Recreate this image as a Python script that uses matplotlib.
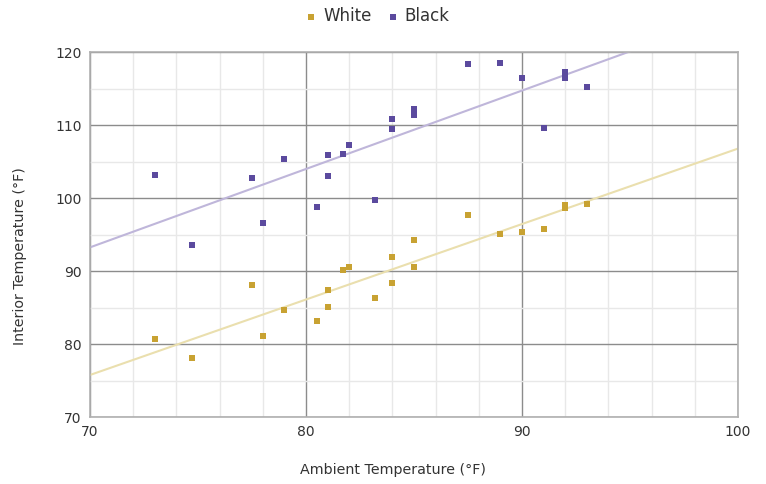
import matplotlib
matplotlib.use("Agg")
import matplotlib.pyplot as plt
from matplotlib.ticker import MultipleLocator
import numpy as np

white_x = [73.0, 74.7, 77.5, 78.0, 79.0, 80.5, 81.0, 81.0, 81.7, 82.0, 83.2,
           84.0, 84.0, 85.0, 85.0, 87.5, 89.0, 90.0, 91.0, 92.0, 92.0, 93.0]
white_y = [80.7, 78.1, 88.1, 81.1, 84.7, 83.2, 85.1, 87.4, 90.1, 90.5, 86.3,
           91.9, 88.4, 94.2, 90.5, 97.7, 95.1, 95.3, 95.8, 99.0, 98.6, 99.2]
black_x = [73.0, 74.7, 77.5, 78.0, 79.0, 80.5, 81.0, 81.0, 81.7, 82.0, 83.2,
           84.0, 84.0, 85.0, 85.0, 87.5, 89.0, 90.0, 91.0, 92.0, 92.0, 93.0]
black_y = [103.2, 93.6, 102.7, 96.6, 105.3, 98.8, 105.9, 103.0, 106.0, 107.3, 99.7,
           110.8, 109.5, 112.2, 111.4, 118.4, 118.5, 116.4, 109.6, 117.3, 116.4, 115.2]

series_names = ["White", "Black"]
marker_colors = ["#c8a232", "#5b4a9e"]
line_colors = ["#eadfae", "#bfb6da"]

fig = plt.figure(figsize=(7.66, 4.84), dpi=100)
ax = fig.add_axes([90/766, 1-417/484, (738-90)/766, (417-52)/484])

ax.set_xlim(70, 100)
ax.set_ylim(70, 120)
ax.xaxis.set_major_locator(MultipleLocator(10))
ax.xaxis.set_minor_locator(MultipleLocator(2))
ax.yaxis.set_major_locator(MultipleLocator(10))
ax.yaxis.set_minor_locator(MultipleLocator(5))
ax.grid(which="minor", color="#e8e8e8", linewidth=1.0, zorder=0)
ax.grid(which="major", color="#8c8c8c", linewidth=1.0, zorder=0)
ax.set_axisbelow(True)
for s in ax.spines.values():
    s.set_color("#b0b0b0")
    s.set_linewidth(1.2)
ax.tick_params(which="both", length=0, labelsize=10, labelcolor="#333333", pad=6)

xs = np.array([70, 100])
handles = []
for name, x, y, mc, lc in zip(series_names, [white_x, black_x], [white_y, black_y],
                              marker_colors, line_colors):
    k, b = np.polyfit(x, y, 1)
    ax.plot(xs, k * xs + b, color=lc, linewidth=1.5, zorder=2, clip_on=True)
    h = ax.scatter(x, y, marker="s", s=22, color=mc, zorder=3, linewidths=0, label=name)
    handles.append(h)

ax.set_xlabel("Ambient Temperature (°F)", fontsize=10.3, color="#333333")
ax.set_ylabel("Interior Temperature (°F)", fontsize=10.3, color="#333333")
ax.xaxis.set_label_coords((393-90)/648, (417-470)/365)
ax.yaxis.set_label_coords((20-90)/648, (417-256)/365)
ax.xaxis.label.set_va("center")
ax.yaxis.label.set_va("center")

fig.legend(handles=handles, labels=series_names, loc="center", bbox_to_anchor=(378/766, 1-16/484),
           ncol=2, frameon=False, fontsize=12, handlelength=0.6, handletextpad=0.4,
           columnspacing=1.0, markerscale=0.9, labelcolor="#333333")

fig.savefig("out.png", dpi=100)
